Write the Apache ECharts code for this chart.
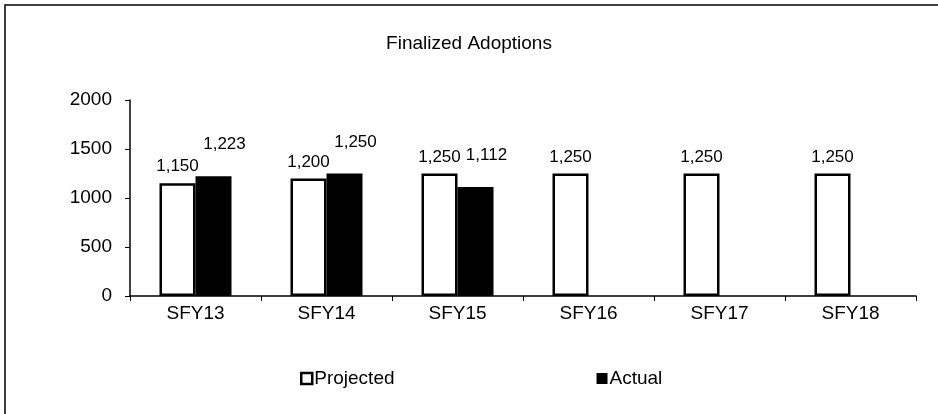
<!DOCTYPE html>
<html>
<head>
<meta charset="utf-8">
<title>Finalized Adoptions</title>
<script src="https://cdn.jsdelivr.net/npm/echarts@6/dist/echarts.min.js"></script>
<style>
html, body { margin: 0; padding: 0; background: #fff; }
#container { width: 938px; height: 414px; }
</style>
</head>
<body>
<div id="container"></div>
<script type="text/javascript">
// data
var categories = ['SFY13', 'SFY14', 'SFY15', 'SFY16', 'SFY17', 'SFY18'];
var projected = [1150, 1200, 1250, 1250, 1250, 1250];
var actual = [1223, 1250, 1112, null, null, null];
var yTicks = [0, 500, 1000, 1500, 2000];

var font = '"Liberation Sans", Arial, sans-serif';

function fmt(p) {
	return p.value == null ? '' : p.value.toLocaleString('en-US');
}

var chart = echarts.init(document.getElementById('container'));

var option = {
	animation: false,
	backgroundColor: '#fff',
	textStyle: { fontFamily: font, color: '#000' },
	title: {
		text: 'Finalized Adoptions',
		left: 'center',
		top: 29,
		textStyle: { fontFamily: font, fontSize: 19, fontWeight: 'normal', color: '#000' }
	},
	legend: {
		data: [
			{ name: 'Projected', itemStyle: { color: '#fff', borderColor: '#000', borderWidth: 2.5 } },
			{ name: 'Actual', itemStyle: { color: '#000' } }
		],
		left: 295,
		top: 364,
		itemWidth: 11,
		itemHeight: 11,
		itemGap: 202,
		icon: 'rect',
		textStyle: { fontFamily: font, fontSize: 19, color: '#000', padding: [0, 0, 0, -3] }
	},
	grid: { left: 130, right: 22, top: 100, bottom: 118 },
	xAxis: {
		type: 'category',
		data: categories,
		axisLine: { lineStyle: { color: '#000', width: 1.5 } },
		axisTick: { show: true, length: 5, lineStyle: { color: '#000' } },
		axisLabel: { fontFamily: font, fontSize: 19, color: '#000', margin: 8 }
	},
	yAxis: {
		type: 'value',
		min: yTicks[0],
		max: yTicks[yTicks.length - 1],
		interval: yTicks[1] - yTicks[0],
		axisLine: { show: true, lineStyle: { color: '#000', width: 1.5 } },
		axisTick: { show: true, length: 5, lineStyle: { color: '#000' } },
		splitLine: { show: false },
		axisLabel: {
			fontFamily: font, fontSize: 19, color: '#000', margin: 18,
			formatter: function (v) { return String(v); }
		}
	},
	series: [
		{
			name: 'Projected',
			type: 'bar',
			data: projected,
			barWidth: 36,
			barGap: '0%',
			itemStyle: { color: '#fff', borderColor: '#000', borderWidth: 2.5 },
			label: {
				show: true, position: 'top', distance: 8,
				formatter: fmt,
				fontFamily: font, fontSize: 17, color: '#000'
			}
		},
		{
			name: 'Actual',
			type: 'bar',
			data: actual,
			barWidth: 36,
			itemStyle: { color: '#000' },
			label: {
				show: true, position: 'top', distance: 23, offset: [11, 0],
				formatter: fmt,
				fontFamily: font, fontSize: 17, color: '#000'
			}
		}
	],
	graphic: [{
		type: 'rect',
		shape: { x: 5, y: 5, width: 960, height: 430 },
		style: { fill: 'none', stroke: '#000', lineWidth: 1.5 },
		silent: true
	}]
};

chart.setOption(option);
</script>
</body>
</html>
